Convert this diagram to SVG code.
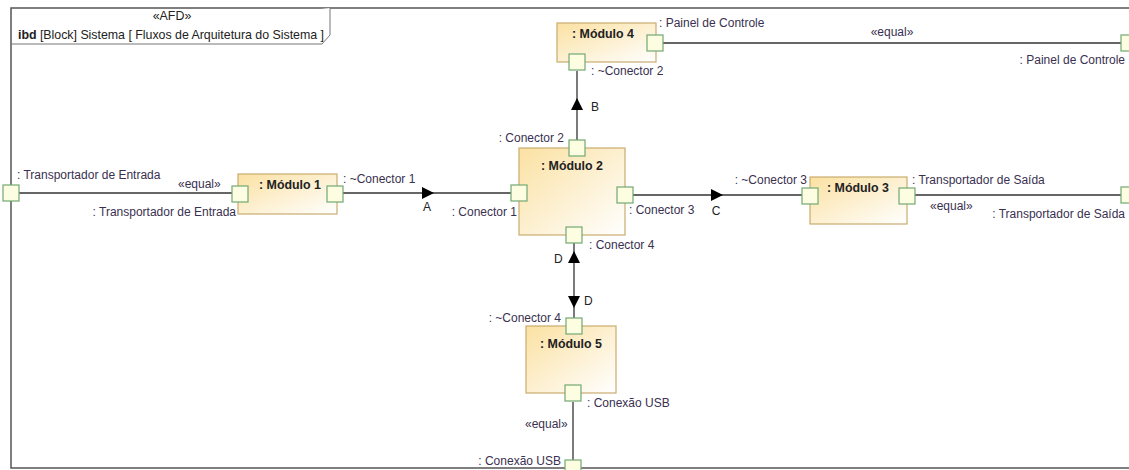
<svg xmlns="http://www.w3.org/2000/svg" width="1129" height="470" viewBox="0 0 1129 470">
  <style>
    .frame { fill: #ffffff; stroke: #555555; stroke-width: 1.5; }
    .tab { fill: #ffffff; stroke: #777777; stroke-width: 1; }
    .block { fill: url(#blockFill); stroke: #c9ac6e; stroke-width: 1.2; }
    .port { fill: #fdfde2; stroke: #72a872; stroke-width: 1.2; }
    .wire { fill: none; stroke: #333333; stroke-width: 1.3; }
    .head { fill: #000000; }
    .name { font-family: "Liberation Sans", Arial, sans-serif; font-size: 12.4px; font-weight: bold; fill: #222222; }
    .lbl { font-family: "Liberation Sans", Arial, sans-serif; font-size: 12px; fill: #3a3050; }
    .title { font-family: "Liberation Sans", Arial, sans-serif; font-size: 12.4px; fill: #222222; }
    .flow { font-family: "Liberation Sans", Arial, sans-serif; font-size: 12px; fill: #222222; }
  </style>
  <defs>
    <linearGradient id="blockFill" x1="0" y1="0" x2="1" y2="1">
      <stop offset="0" stop-color="#fbe1a2"/>
      <stop offset="1" stop-color="#ffffff"/>
    </linearGradient>
  </defs>

  <rect width="1129" height="470" fill="#ffffff"/>

  <!-- diagram frame -->
  <g id="frame">
    <rect class="frame" x="11" y="8" width="1130" height="460"/>
    <path class="tab" d="M11,44 H322 L330,35 V8"/>
    <text class="title" x="172" y="20" text-anchor="middle">«AFD»</text>
    <text class="title" x="18" y="39" textLength="306"><tspan font-weight="bold">ibd</tspan> [Block] Sistema [ Fluxos de Arquitetura do Sistema ]</text>
  </g>

  <!-- connectors -->
  <g id="connectors">
    <line class="wire" x1="19" y1="193" x2="232" y2="193"/>
    <line class="wire" x1="343" y1="193" x2="511" y2="193"/>
    <polygon class="head" points="422,187 434,193 422,199"/>
    <line class="wire" x1="633" y1="195" x2="802" y2="195"/>
    <polygon class="head" points="711,189 723,195 711,201"/>
    <line class="wire" x1="915" y1="195" x2="1121" y2="195"/>
    <line class="wire" x1="663" y1="43" x2="1121" y2="43"/>
    <line class="wire" x1="577" y1="71" x2="577" y2="140"/>
    <polygon class="head" points="571,110 577,98 583,110"/>
    <line class="wire" x1="574" y1="243" x2="574" y2="318"/>
    <polygon class="head" points="568,263 574,251 580,263"/>
    <polygon class="head" points="568,296 574,308 580,296"/>
    <line class="wire" x1="573" y1="402" x2="573" y2="460"/>

    <text class="flow" x="427" y="211" text-anchor="middle">A</text>
    <text class="flow" x="716" y="215" text-anchor="middle">C</text>
    <text class="flow" x="591" y="111">B</text>
    <text class="flow" x="554" y="263">D</text>
    <text class="flow" x="584" y="305">D</text>

    <text class="lbl" x="178" y="188">«equal»</text>
    <text class="lbl" x="892" y="36" text-anchor="middle">«equal»</text>
    <text class="lbl" x="930" y="210">«equal»</text>
    <text class="lbl" x="525" y="428">«equal»</text>
  </g>

  <!-- boundary ports of the frame -->
  <g id="boundary-ports">
    <rect class="port" x="3" y="185" width="16" height="16"/>
    <text class="lbl" x="17" y="179">: Transportador de Entrada</text>
    <rect class="port" x="1121" y="35" width="16" height="16"/>
    <text class="lbl" x="1125" y="64" text-anchor="end">: Painel de Controle</text>
    <rect class="port" x="1121" y="187" width="16" height="16"/>
    <text class="lbl" x="1125" y="218" text-anchor="end">: Transportador de Saída</text>
    <rect class="port" x="565" y="460" width="16" height="16"/>
    <text class="lbl" x="561" y="465" text-anchor="end">: Conexão USB</text>
  </g>

  <g id="modulo-1">
    <rect class="block" x="238" y="174" width="99" height="40"/>
    <text class="name" x="290" y="189" text-anchor="middle">: Módulo 1</text>
    <rect class="port" x="232" y="186" width="16" height="16"/>
    <rect class="port" x="327" y="186" width="16" height="16"/>
    <text class="lbl" x="236" y="216" text-anchor="end">: Transportador de Entrada</text>
    <text class="lbl" x="343" y="183">: ~Conector 1</text>
  </g>

  <g id="modulo-2">
    <rect class="block" x="519" y="148" width="106" height="87"/>
    <text class="name" x="572" y="170" text-anchor="middle">: Módulo 2</text>
    <rect class="port" x="569" y="140" width="16" height="16"/>
    <rect class="port" x="511" y="185" width="16" height="16"/>
    <rect class="port" x="617" y="187" width="16" height="16"/>
    <rect class="port" x="566" y="227" width="16" height="16"/>
    <text class="lbl" x="564" y="142" text-anchor="end">: Conector 2</text>
    <text class="lbl" x="517" y="216" text-anchor="end">: Conector 1</text>
    <text class="lbl" x="629" y="214">: Conector 3</text>
    <text class="lbl" x="589" y="249">: Conector 4</text>
  </g>

  <g id="modulo-3">
    <rect class="block" x="810" y="177" width="97" height="47"/>
    <text class="name" x="858" y="192" text-anchor="middle">: Módulo 3</text>
    <rect class="port" x="802" y="188" width="16" height="16"/>
    <rect class="port" x="899" y="188" width="16" height="16"/>
    <text class="lbl" x="807" y="184" text-anchor="end">: ~Conector 3</text>
    <text class="lbl" x="912" y="184">: Transportador de Saída</text>
  </g>

  <g id="modulo-4">
    <rect class="block" x="557" y="23" width="99" height="39"/>
    <text class="name" x="603" y="38" text-anchor="middle">: Módulo 4</text>
    <rect class="port" x="647" y="35" width="16" height="16"/>
    <rect class="port" x="569" y="54" width="16" height="16"/>
    <text class="lbl" x="659" y="27">: Painel de Controle</text>
    <text class="lbl" x="591" y="75">: ~Conector 2</text>
  </g>

  <g id="modulo-5">
    <rect class="block" x="526" y="326" width="90" height="67"/>
    <text class="name" x="571" y="348" text-anchor="middle">: Módulo 5</text>
    <rect class="port" x="566" y="318" width="16" height="16"/>
    <rect class="port" x="565" y="385" width="16" height="16"/>
    <text class="lbl" x="561" y="322" text-anchor="end">: ~Conector 4</text>
    <text class="lbl" x="587" y="407">: Conexão USB</text>
  </g>
</svg>
